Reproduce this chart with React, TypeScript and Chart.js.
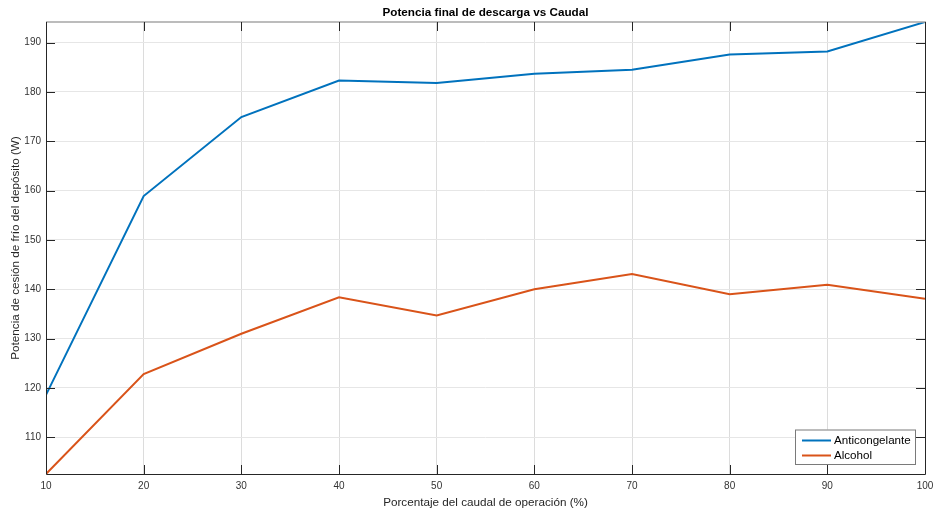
import React, { useEffect, useRef } from "react";
import { Chart, registerables } from "chart.js";

Chart.register(...registerables);

const caudal = [10, 20, 30, 40, 50, 60, 70, 80, 90, 100];
const anticongelante = [118.6, 158.9, 174.9, 182.3, 181.8, 183.7, 184.5, 187.6, 188.2, 194.17];
const alcohol = [102.57, 122.8, 131.0, 138.4, 134.7, 140.0, 143.1, 139.0, 140.9, 138.1];
const xTicks = [10, 20, 30, 40, 50, 60, 70, 80, 90, 100];
const yTicks = [110, 120, 130, 140, 150, 160, 170, 180, 190];
const seriesNames = ["Anticongelante", "Alcohol"];
const seriesColors = ["#0072BD", "#D95319"];
const chartTitle = "Potencia final de descarga vs Caudal";
const xTitle = "Porcentaje del caudal de operación (%)";
const yTitle = "Potencia de cesión de frío del depósito (W)";

const FONT = "'Liberation Sans', Arial, Helvetica, sans-serif";

const matlabPlugin = {
  id: "matlabDecor",
  afterDraw(chart: any) {
    const { ctx, chartArea } = chart;
    const { left, right, top, bottom } = chartArea;
    const xs = chart.scales.x;
    const ys = chart.scales.y;
    ctx.save();
    // box
    ctx.lineWidth = 1;
    ctx.strokeStyle = "#262626";
    ctx.beginPath();
    ctx.moveTo(left + 0.5, top);
    ctx.lineTo(left + 0.5, bottom + 0.5);
    ctx.lineTo(right + 0.5, bottom + 0.5);
    ctx.lineTo(right + 0.5, top);
    ctx.stroke();
    ctx.strokeStyle = "#a6a6a6";
    ctx.lineWidth = 1.5;
    ctx.beginPath();
    ctx.moveTo(left, top);
    ctx.lineTo(right + 1, top);
    ctx.stroke();
    // tick marks inward
    ctx.strokeStyle = "#262626";
    ctx.lineWidth = 1;
    const tl = 9;
    ctx.beginPath();
    for (const v of xTicks) {
      const px = Math.round(xs.getPixelForValue(v)) + 0.5;
      ctx.moveTo(px, bottom);
      ctx.lineTo(px, bottom - tl);
      ctx.moveTo(px, top);
      ctx.lineTo(px, top + tl);
    }
    for (const v of yTicks) {
      const py = Math.round(ys.getPixelForValue(v)) + 0.5;
      ctx.moveTo(left, py);
      ctx.lineTo(left + tl, py);
      ctx.moveTo(right, py);
      ctx.lineTo(right - tl, py);
    }
    ctx.stroke();
    // title
    ctx.fillStyle = "#000000";
    ctx.font = `bold 11.7px ${FONT}`;
    ctx.textAlign = "center";
    ctx.textBaseline = "middle";
    ctx.fillText(chartTitle, (left + right) / 2, 12.5);
    // legend
    const lx = 795, ly = 429.5, lw = 120, lh = 34.5;
    ctx.fillStyle = "#ffffff";
    ctx.fillRect(lx, ly, lw, lh);
    ctx.strokeStyle = "#7a7a7a";
    ctx.lineWidth = 1;
    ctx.strokeRect(lx + 0.5, ly + 0.5, lw, lh);
    ctx.font = `11.6px ${FONT}`;
    ctx.textAlign = "left";
    ctx.textBaseline = "middle";
    seriesNames.forEach((name, i) => {
      const yy = 440.5 + i * 15;
      ctx.strokeStyle = seriesColors[i];
      ctx.lineWidth = 2;
      ctx.beginPath();
      ctx.moveTo(802, yy);
      ctx.lineTo(831, yy);
      ctx.stroke();
      ctx.fillStyle = "#000000";
      ctx.fillText(name, 834, yy);
    });
    ctx.restore();
  },
};

export default function App() {
  const ref = useRef<HTMLCanvasElement | null>(null);
  useEffect(() => {
    if (!ref.current) return;
    const chart = new Chart(ref.current, {
      type: "line",
      data: {
        datasets: [
          {
            label: seriesNames[0],
            data: caudal.map((x, i) => ({ x, y: anticongelante[i] })),
            borderColor: seriesColors[0],
            borderWidth: 2,
            pointRadius: 0,
            tension: 0,
            fill: false,
          },
          {
            label: seriesNames[1],
            data: caudal.map((x, i) => ({ x, y: alcohol[i] })),
            borderColor: seriesColors[1],
            borderWidth: 2,
            pointRadius: 0,
            tension: 0,
            fill: false,
          },
        ],
      },
      options: {
        animation: false,
        responsive: false,
        devicePixelRatio: 1,
        layout: { padding: { left: 0, top: 22, right: 8, bottom: 0 } },
        plugins: { legend: { display: false }, title: { display: false }, tooltip: { enabled: false } },
        scales: {
          x: {
            type: "linear",
            min: 10,
            max: 100,
            afterBuildTicks: (s: any) => {
              s.ticks = xTicks.map((v) => ({ value: v }));
            },
            afterFit: (s: any) => {
              s.height = 36;
              s.paddingLeft = 0;
              s.paddingRight = 0;
            },
            grid: { color: "#dcdcdc", drawTicks: false },
            border: { display: false },
            ticks: {
              padding: 6,
              maxRotation: 0,
              color: "#333333",
              font: { family: FONT, size: 10 },
              callback: (v: any) => String(v),
            },
            title: {
              display: true,
              text: xTitle,
              color: "#262626",
              font: { family: FONT, size: 11.7 },
              padding: { top: 0, bottom: 0 },
            },
          },
          y: {
            type: "linear",
            min: 102.57,
            max: 194.17,
            afterBuildTicks: (s: any) => {
              s.ticks = yTicks.map((v) => ({ value: v }));
            },
            afterFit: (s: any) => {
              s.width = 46;
              s.paddingTop = 0;
              s.paddingBottom = 0;
            },
            grid: { color: "#e6e6e6", drawTicks: false },
            border: { display: false },
            ticks: {
              padding: 5,
              color: "#333333",
              font: { family: FONT, size: 10 },
              callback: (v: any) => String(v),
            },
            title: {
              display: true,
              text: yTitle,
              color: "#262626",
              font: { family: FONT, size: 11.7 },
              padding: { top: 9, bottom: 0 },
            },
          },
        },
      },
      plugins: [matlabPlugin],
    });
    return () => chart.destroy();
  }, []);
  return (
    <div style={{ position: "absolute", left: 0, top: 0, width: 933, height: 510, background: "#ffffff" }}>
      <canvas ref={ref} width={933} height={510} />
    </div>
  );
}
